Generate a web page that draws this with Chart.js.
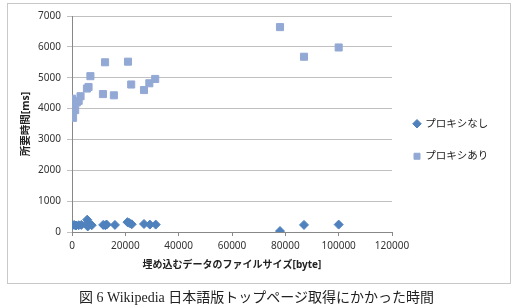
<!DOCTYPE html>
<html>
<head>
<meta charset="utf-8">
<script src="https://cdn.jsdelivr.net/npm/chart.js@4"></script>
<style>
  body { margin: 0; background: #fff; }
  #box { position: absolute; left: 7px; top: 3px; width: 502px; height: 279px; border: 1px solid #c8c8c8; }
  #wrap { position: absolute; left: 0; top: 0; width: 513px; height: 308px; }
  #caption { position: absolute; left: 0; top: 286px; width: 513px; text-align: center;
    font: 14px "Liberation Serif", "Noto Sans CJK JP", serif; color: #222; }
</style>
</head>
<body>
<div id="box"></div>
<div id="wrap"><canvas id="chart" width="513" height="308"></canvas></div>
<div id="caption">図 6 Wikipedia 日本語版トップページ取得にかかった時間</div>
<script>
// file size [byte] and time [ms]
const noProxyX = [0, 800, 1500, 2500, 3500, 5700, 6000, 5900, 7400, 11700, 12500, 13000, 16100, 20800, 21500, 22400, 27000, 29200, 31400, 78000, 87000, 100000];
const noProxyY = [220, 230, 210, 220, 230, 400, 320, 180, 220, 230, 220, 240, 230, 320, 290, 250, 260, 240, 240, 30, 230, 240];

const proxyX = [0, 300, 500, 200, 400, 1200, 1800, 2500, 3200, 5600, 6200, 6900, 11600, 12400, 15700, 21000, 22200, 27000, 29000, 31200, 78000, 87000, 100000];
const proxyY = [4320, 4200, 4050, 3900, 3700, 3950, 4200, 4250, 4400, 4650, 4700, 5050, 4470, 5500, 4430, 5520, 4780, 4600, 4820, 4960, 6640, 5680, 5980];

const seriesNames = ['プロキシなし', 'プロキシあり'];
const xTitle = '埋め込むデータのファイルサイズ[byte]';
const yTitle = '所要時間[ms]';

function toPoints(xs, ys) {
  return xs.map((x, i) => ({ x: x, y: ys[i] }));
}

// keep the legend a fixed width so the plot area ends where it does in the figure,
// and lift it a little (Excel centres it a bit higher than Chart.js does)
const legendPlace = {
  id: 'legendPlace',
  beforeInit(chart) {
    const fit = chart.legend.fit;
    chart.legend.fit = function () {
      fit.call(this);
      this.width = 121;
    };
  },
  afterLayout(chart) {
    chart.legend.top -= 19;
  }
};

const font = 'Noto Sans, Noto Sans CJK JP, sans-serif';
const gridColor = '#c0c0c0';
const axisColor = '#888';
const plain = v => String(v);

new Chart(document.getElementById('chart'), {
  type: 'scatter',
  data: {
    datasets: [{
      label: seriesNames[0],
      data: toPoints(noProxyX, noProxyY),
      pointStyle: 'rectRot',
      pointRadius: 4.5,
      backgroundColor: '#4f81bd',
      borderColor: '#4f81bd',
      borderWidth: 1
    }, {
      label: seriesNames[1],
      data: toPoints(proxyX, proxyY),
      pointStyle: 'rect',
      pointRadius: 5,
      backgroundColor: '#93a9d5',
      borderColor: '#93a9d5',
      borderWidth: 1
    }]
  },
  options: {
    responsive: false,
    animation: false,
    layout: { padding: { top: 16, bottom: 25, left: 0, right: 0 } },
    plugins: {
      tooltip: { enabled: false },
      legend: {
        position: 'right',
        align: 'center',
        labels: {
          usePointStyle: true,
          boxHeight: 6,
          boxWidth: 6,
          padding: 22,
          color: '#222',
          font: { family: font, size: 10.5 }
        }
      }
    },
    scales: {
      x: {
        type: 'linear',
        min: 0,
        max: 120000,
        ticks: { stepSize: 20000, padding: 4, color: '#333', callback: plain, font: { family: font, size: 10 } },
        grid: { drawOnChartArea: false, drawTicks: true, tickLength: 4, color: axisColor },
        border: { color: axisColor },
        title: { display: true, text: xTitle, color: '#222', padding: { top: 0, bottom: 12 },
          font: { family: font, size: 10, weight: 'bold' } },
        afterFit(scale) { scale.height = 51; }
      },
      y: {
        min: 0,
        max: 7000,
        ticks: { stepSize: 1000, padding: 6, color: '#333', callback: plain, font: { family: font, size: 10 } },
        grid: { color: gridColor, tickLength: 5 },
        border: { color: axisColor },
        title: { display: true, text: yTitle, color: '#222', padding: { top: 20, bottom: 0 },
          font: { family: font, size: 10.5, weight: 'bold' } },
        afterFit(scale) { scale.width = 72; }
      }
    }
  },
  plugins: [legendPlace]
});
</script>
</body>
</html>
